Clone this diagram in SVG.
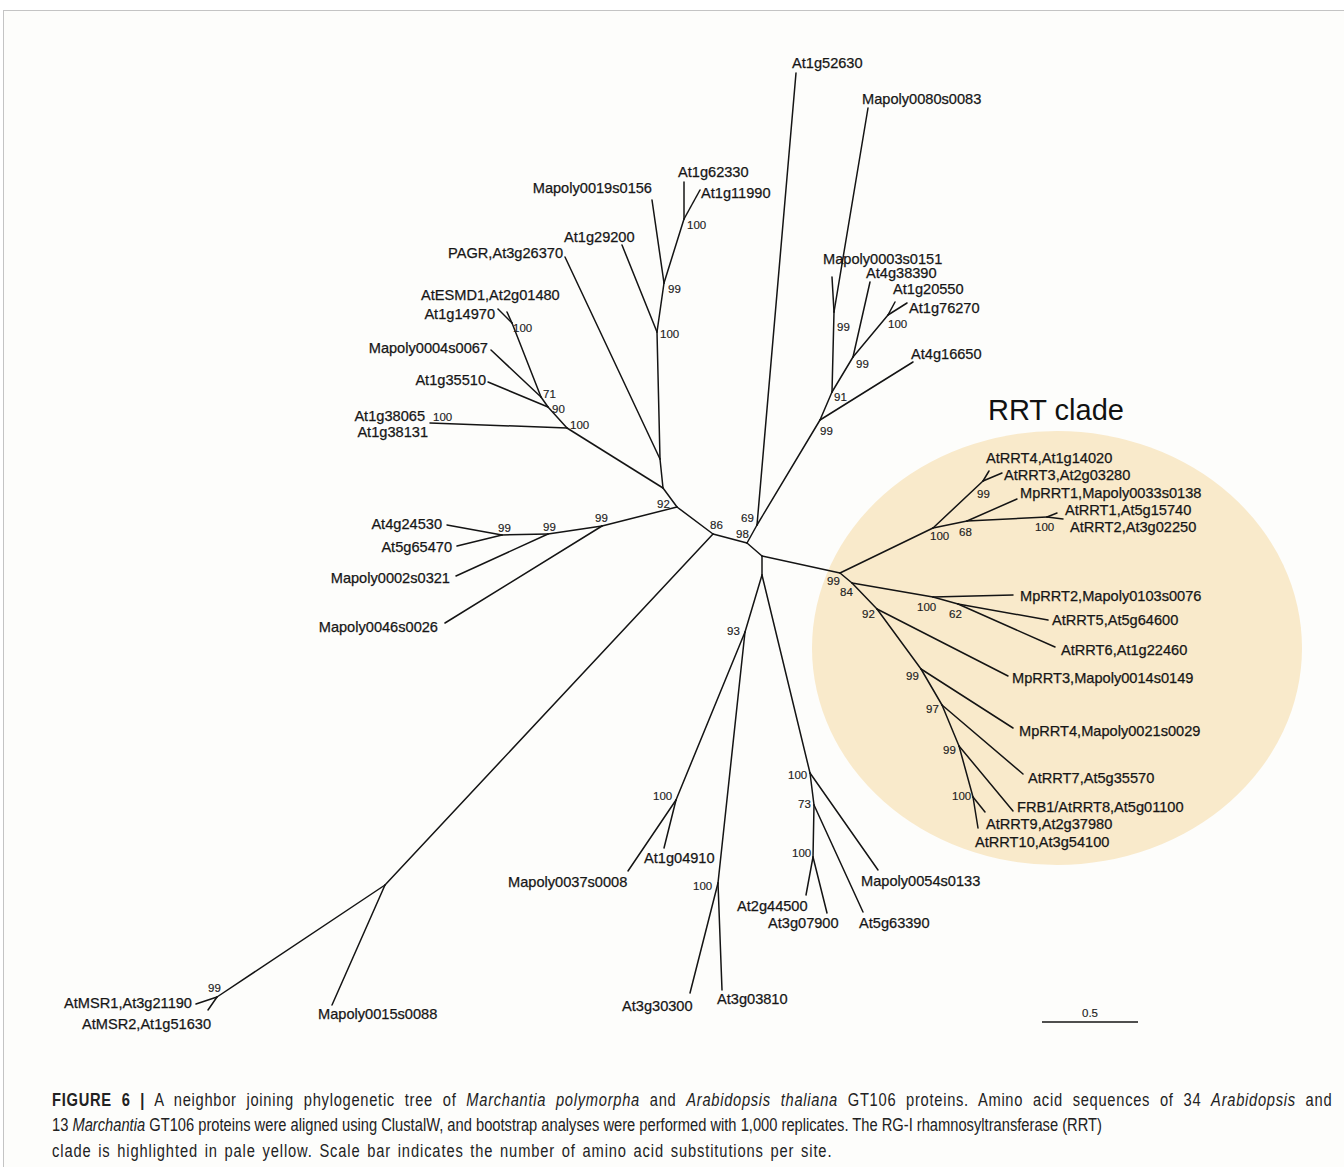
<svg xmlns="http://www.w3.org/2000/svg" width="1344" height="1167" viewBox="0 0 1344 1167">
<style>
.e{stroke:#141414;stroke-width:1.5;fill:none;stroke-linecap:round}
.t{font-family:"Liberation Sans",Arial,sans-serif;font-size:14.6px;fill:#161616;stroke:#161616;stroke-width:0.25}
.b{font-family:"Liberation Sans",Arial,sans-serif;font-size:11.5px;fill:#222;stroke:#222;stroke-width:0.15}
.cap{font-family:"Liberation Sans",Arial,sans-serif;font-size:17.5px;fill:#222}
</style>
<rect x="0" y="0" width="1344" height="1167" fill="#ffffff"/>
<rect x="3.5" y="10.5" width="1360" height="1180" fill="#fdfdfb" stroke="#c4c4c4" stroke-width="1"/>
<ellipse id="rrt-highlight" cx="1057" cy="648" rx="245" ry="217" fill="#f9eacb"/>
<text x="988" y="420" style="font-family:'Liberation Sans',Arial,sans-serif;font-size:29px;fill:#111">RRT clade</text>

<g id="connectors">
<line class="e" x1="677" y1="507" x2="713" y2="534"/>
<line class="e" x1="713" y1="534" x2="747" y2="543"/>
<line class="e" x1="747" y1="543" x2="762" y2="556"/>
<line class="e" x1="747" y1="543" x2="757" y2="525"/>
<line class="e" x1="762" y1="556" x2="762" y2="575"/>
<line class="e" x1="762" y1="556" x2="840" y2="573"/>
<line class="e" x1="757" y1="525" x2="796" y2="73"/>
<line class="e" x1="757" y1="525" x2="820" y2="420"/>
<line class="e" x1="820" y1="420" x2="913" y2="362"/>
<line class="e" x1="820" y1="420" x2="832" y2="392"/>
<line class="e" x1="832" y1="392" x2="834" y2="312"/>
<line class="e" x1="834" y1="312" x2="832" y2="277"/>
<line class="e" x1="834" y1="312" x2="868" y2="108"/>
<line class="e" x1="832" y1="392" x2="853" y2="357"/>
<line class="e" x1="853" y1="357" x2="870" y2="282"/>
<line class="e" x1="853" y1="357" x2="888" y2="315"/>
<line class="e" x1="888" y1="315" x2="895" y2="302"/>
<line class="e" x1="888" y1="315" x2="907" y2="303"/>
<line class="e" x1="677" y1="507" x2="663" y2="488"/>
<line class="e" x1="663" y1="488" x2="660" y2="459"/>
<line class="e" x1="660" y1="459" x2="565" y2="257"/>
<line class="e" x1="660" y1="459" x2="657" y2="332"/>
<line class="e" x1="657" y1="332" x2="622" y2="245"/>
<line class="e" x1="657" y1="332" x2="664" y2="283"/>
<line class="e" x1="664" y1="283" x2="652" y2="200"/>
<line class="e" x1="664" y1="283" x2="684" y2="219"/>
<line class="e" x1="684" y1="219" x2="684" y2="182"/>
<line class="e" x1="684" y1="219" x2="700" y2="190"/>
<line class="e" x1="663" y1="488" x2="567" y2="428"/>
<line class="e" x1="567" y1="428" x2="430" y2="423"/>
<line class="e" x1="567" y1="428" x2="548" y2="407"/>
<line class="e" x1="548" y1="407" x2="488" y2="382"/>
<line class="e" x1="548" y1="407" x2="541" y2="397"/>
<line class="e" x1="541" y1="397" x2="491" y2="350"/>
<line class="e" x1="541" y1="397" x2="512" y2="323"/>
<line class="e" x1="512" y1="323" x2="498" y2="309"/>
<line class="e" x1="512" y1="323" x2="507" y2="312"/>
<line class="e" x1="677" y1="507" x2="602" y2="526"/>
<line class="e" x1="602" y1="526" x2="445" y2="623"/>
<line class="e" x1="602" y1="526" x2="548" y2="534"/>
<line class="e" x1="548" y1="534" x2="456" y2="576"/>
<line class="e" x1="548" y1="534" x2="502" y2="535"/>
<line class="e" x1="502" y1="535" x2="447" y2="525"/>
<line class="e" x1="502" y1="535" x2="457" y2="546"/>
<line class="e" x1="713" y1="534" x2="385" y2="885"/>
<line class="e" x1="385" y1="885" x2="332" y2="1005"/>
<line class="e" x1="385" y1="885" x2="217" y2="997"/>
<line class="e" x1="217" y1="997" x2="196" y2="1004"/>
<line class="e" x1="217" y1="997" x2="208" y2="1010"/>
<line class="e" x1="762" y1="575" x2="745" y2="632"/>
<line class="e" x1="762" y1="575" x2="810" y2="773"/>
<line class="e" x1="745" y1="632" x2="676" y2="800"/>
<line class="e" x1="745" y1="632" x2="718" y2="883"/>
<line class="e" x1="676" y1="800" x2="628" y2="871"/>
<line class="e" x1="676" y1="800" x2="664" y2="848"/>
<line class="e" x1="718" y1="883" x2="690" y2="993"/>
<line class="e" x1="718" y1="883" x2="722" y2="990"/>
<line class="e" x1="810" y1="773" x2="878" y2="870"/>
<line class="e" x1="810" y1="773" x2="814" y2="805"/>
<line class="e" x1="814" y1="805" x2="863" y2="912"/>
<line class="e" x1="814" y1="805" x2="813" y2="857"/>
<line class="e" x1="813" y1="857" x2="806" y2="895"/>
<line class="e" x1="813" y1="857" x2="827" y2="913"/>
<line class="e" x1="840" y1="573" x2="852" y2="583"/>
<line class="e" x1="840" y1="573" x2="933" y2="528"/>
<line class="e" x1="933" y1="528" x2="983" y2="481"/>
<line class="e" x1="983" y1="481" x2="989" y2="471"/>
<line class="e" x1="983" y1="481" x2="1002" y2="473"/>
<line class="e" x1="933" y1="528" x2="967" y2="521"/>
<line class="e" x1="967" y1="521" x2="1017" y2="499"/>
<line class="e" x1="967" y1="521" x2="1047" y2="517"/>
<line class="e" x1="1047" y1="517" x2="1057" y2="513"/>
<line class="e" x1="1047" y1="517" x2="1063" y2="519"/>
<line class="e" x1="852" y1="583" x2="933" y2="597"/>
<line class="e" x1="933" y1="597" x2="1013" y2="595"/>
<line class="e" x1="933" y1="597" x2="958" y2="604"/>
<line class="e" x1="958" y1="604" x2="1048" y2="620"/>
<line class="e" x1="958" y1="604" x2="1055" y2="647"/>
<line class="e" x1="852" y1="583" x2="877" y2="609"/>
<line class="e" x1="877" y1="609" x2="1008" y2="676"/>
<line class="e" x1="877" y1="609" x2="921" y2="669"/>
<line class="e" x1="921" y1="669" x2="1013" y2="728"/>
<line class="e" x1="921" y1="669" x2="942" y2="705"/>
<line class="e" x1="942" y1="705" x2="1023" y2="774"/>
<line class="e" x1="942" y1="705" x2="959" y2="746"/>
<line class="e" x1="959" y1="746" x2="1013" y2="811"/>
<line class="e" x1="959" y1="746" x2="973" y2="797"/>
<line class="e" x1="973" y1="797" x2="985" y2="812"/>
<line class="e" x1="973" y1="797" x2="978" y2="828"/>
</g>

<g id="tips">
<g id="tip-At1g52630"><text class="t" x="792" y="68">At1g52630</text></g>
<g id="tip-Mapoly0080s0083"><text class="t" x="862" y="104">Mapoly0080s0083</text></g>
<g id="tip-Mapoly0003s0151"><text class="t" x="823" y="264">Mapoly0003s0151</text></g>
<g id="tip-At4g38390"><text class="t" x="866" y="278">At4g38390</text></g>
<g id="tip-At1g20550"><text class="t" x="893" y="294">At1g20550</text></g>
<g id="tip-At1g76270"><text class="t" x="909" y="313">At1g76270</text></g>
<g id="tip-At4g16650"><text class="t" x="911" y="359">At4g16650</text></g>
<g id="tip-At1g62330"><text class="t" x="678" y="177">At1g62330</text></g>
<g id="tip-At1g11990"><text class="t" x="701" y="198">At1g11990</text></g>
<g id="tip-Mapoly0019s0156"><text class="t" x="652" y="193" text-anchor="end">Mapoly0019s0156</text></g>
<g id="tip-At1g29200"><text class="t" x="564" y="242">At1g29200</text></g>
<g id="tip-PAGR"><text class="t" x="563" y="258" text-anchor="end">PAGR,At3g26370</text></g>
<g id="tip-AtESMD1"><text class="t" x="421" y="300">AtESMD1,At2g01480</text></g>
<g id="tip-At1g14970"><text class="t" x="495" y="319" text-anchor="end">At1g14970</text></g>
<g id="tip-Mapoly0004s0067"><text class="t" x="488" y="353" text-anchor="end">Mapoly0004s0067</text></g>
<g id="tip-At1g35510"><text class="t" x="486" y="385" text-anchor="end">At1g35510</text></g>
<g id="tip-At1g38065"><text class="t" x="425" y="421" text-anchor="end">At1g38065</text></g>
<g id="tip-At1g38131"><text class="t" x="428" y="437" text-anchor="end">At1g38131</text></g>
<g id="tip-At4g24530"><text class="t" x="442" y="529" text-anchor="end">At4g24530</text></g>
<g id="tip-At5g65470"><text class="t" x="452" y="552" text-anchor="end">At5g65470</text></g>
<g id="tip-Mapoly0002s0321"><text class="t" x="450" y="583" text-anchor="end">Mapoly0002s0321</text></g>
<g id="tip-Mapoly0046s0026"><text class="t" x="438" y="632" text-anchor="end">Mapoly0046s0026</text></g>
<g id="tip-AtMSR1"><text class="t" x="192" y="1008" text-anchor="end">AtMSR1,At3g21190</text></g>
<g id="tip-AtMSR2"><text class="t" x="211" y="1029" text-anchor="end">AtMSR2,At1g51630</text></g>
<g id="tip-Mapoly0015s0088"><text class="t" x="318" y="1019">Mapoly0015s0088</text></g>
<g id="tip-Mapoly0037s0008"><text class="t" x="508" y="887">Mapoly0037s0008</text></g>
<g id="tip-At1g04910"><text class="t" x="644" y="863">At1g04910</text></g>
<g id="tip-At3g30300"><text class="t" x="622" y="1011">At3g30300</text></g>
<g id="tip-At3g03810"><text class="t" x="717" y="1004">At3g03810</text></g>
<g id="tip-At2g44500"><text class="t" x="737" y="911">At2g44500</text></g>
<g id="tip-At3g07900"><text class="t" x="768" y="928">At3g07900</text></g>
<g id="tip-At5g63390"><text class="t" x="859" y="928">At5g63390</text></g>
<g id="tip-Mapoly0054s0133"><text class="t" x="861" y="886">Mapoly0054s0133</text></g>
<g id="tip-AtRRT4"><text class="t" x="986" y="463">AtRRT4,At1g14020</text></g>
<g id="tip-AtRRT3"><text class="t" x="1004" y="480">AtRRT3,At2g03280</text></g>
<g id="tip-MpRRT1"><text class="t" x="1020" y="498">MpRRT1,Mapoly0033s0138</text></g>
<g id="tip-AtRRT1"><text class="t" x="1065" y="515">AtRRT1,At5g15740</text></g>
<g id="tip-AtRRT2"><text class="t" x="1070" y="532">AtRRT2,At3g02250</text></g>
<g id="tip-MpRRT2"><text class="t" x="1020" y="601">MpRRT2,Mapoly0103s0076</text></g>
<g id="tip-AtRRT5"><text class="t" x="1052" y="625">AtRRT5,At5g64600</text></g>
<g id="tip-AtRRT6"><text class="t" x="1061" y="655">AtRRT6,At1g22460</text></g>
<g id="tip-MpRRT3"><text class="t" x="1012" y="683">MpRRT3,Mapoly0014s0149</text></g>
<g id="tip-MpRRT4"><text class="t" x="1019" y="736">MpRRT4,Mapoly0021s0029</text></g>
<g id="tip-AtRRT7"><text class="t" x="1028" y="783">AtRRT7,At5g35570</text></g>
<g id="tip-FRB1"><text class="t" x="1017" y="812">FRB1/AtRRT8,At5g01100</text></g>
<g id="tip-AtRRT9"><text class="t" x="986" y="829">AtRRT9,At2g37980</text></g>
<g id="tip-AtRRT10"><text class="t" x="975" y="847">AtRRT10,At3g54100</text></g>
</g>

<g id="internal-nodes">
<g id="n-A"><text class="b" x="657" y="508">92</text></g>
<g id="n-B"><text class="b" x="710" y="529">86</text></g>
<g id="n-C"><text class="b" x="736" y="538">98</text></g>
<g id="n-69"><text class="b" x="741" y="522">69</text></g>
<g id="n-99r"><text class="b" x="820" y="435">99</text></g>
<g id="n-91"><text class="b" x="834" y="401">91</text></g>
<g id="n-99s"><text class="b" x="837" y="331">99</text></g>
<g id="n-99t"><text class="b" x="856" y="368">99</text></g>
<g id="n-100u"><text class="b" x="888" y="328">100</text></g>
<g id="n-100a"><text class="b" x="660" y="338">100</text></g>
<g id="n-99b"><text class="b" x="668" y="293">99</text></g>
<g id="n-100c"><text class="b" x="687" y="229">100</text></g>
<g id="n-100d"><text class="b" x="513" y="332">100</text></g>
<g id="n-71"><text class="b" x="543" y="398">71</text></g>
<g id="n-90"><text class="b" x="552" y="413">90</text></g>
<g id="n-100e"><text class="b" x="570" y="429">100</text></g>
<g id="n-100f"><text class="b" x="433" y="421">100</text></g>
<g id="n-99g"><text class="b" x="595" y="522">99</text></g>
<g id="n-99h"><text class="b" x="543" y="531">99</text></g>
<g id="n-99i"><text class="b" x="498" y="532">99</text></g>
<g id="n-99m"><text class="b" x="208" y="992">99</text></g>
<g id="n-93"><text class="b" x="727" y="635">93</text></g>
<g id="n-100n"><text class="b" x="788" y="779">100</text></g>
<g id="n-100o"><text class="b" x="653" y="800">100</text></g>
<g id="n-100p"><text class="b" x="693" y="890">100</text></g>
<g id="n-73"><text class="b" x="798" y="808">73</text></g>
<g id="n-100q"><text class="b" x="792" y="857">100</text></g>
<g id="n-R"><text class="b" x="827" y="585">99</text></g>
<g id="n-84"><text class="b" x="840" y="596">84</text></g>
<g id="n-100r"><text class="b" x="930" y="540">100</text></g>
<g id="n-99s2"><text class="b" x="977" y="498">99</text></g>
<g id="n-68"><text class="b" x="959" y="536">68</text></g>
<g id="n-100v"><text class="b" x="1035" y="531">100</text></g>
<g id="n-100w"><text class="b" x="917" y="611">100</text></g>
<g id="n-62"><text class="b" x="949" y="618">62</text></g>
<g id="n-92r"><text class="b" x="862" y="618">92</text></g>
<g id="n-99x"><text class="b" x="906" y="680">99</text></g>
<g id="n-97"><text class="b" x="926" y="713">97</text></g>
<g id="n-99y"><text class="b" x="943" y="754">99</text></g>
<g id="n-100z"><text class="b" x="952" y="800">100</text></g>
</g>

<g id="scale-bar">
<line x1="1042" y1="1022" x2="1138" y2="1022" stroke="#141414" stroke-width="1.5"/>
<text class="b" x="1090" y="1017" text-anchor="middle">0.5</text>
</g>

<g id="caption">
<g transform="translate(52,1106) scale(0.84,1)"><text class="cap" x="0" y="0" word-spacing="6" letter-spacing="0.85"><tspan font-weight="bold">FIGURE 6 |</tspan> A neighbor joining phylogenetic tree of <tspan font-style="italic">Marchantia polymorpha</tspan> and <tspan font-style="italic">Arabidopsis thaliana</tspan> GT106 proteins. Amino acid sequences of 34 <tspan font-style="italic">Arabidopsis</tspan> and</text></g>
<g transform="translate(52,1131) scale(0.84,1)"><text class="cap" x="0" y="0">13 <tspan font-style="italic">Marchantia</tspan> GT106 proteins were aligned using ClustalW, and bootstrap analyses were performed with 1,000 replicates. The RG-I rhamnosyltransferase (RRT)</text></g>
<g transform="translate(52,1157) scale(0.84,1)"><text class="cap" x="0" y="0" word-spacing="2" letter-spacing="1.05">clade is highlighted in pale yellow. Scale bar indicates the number of amino acid substitutions per site.</text></g>
</g>
</svg>
